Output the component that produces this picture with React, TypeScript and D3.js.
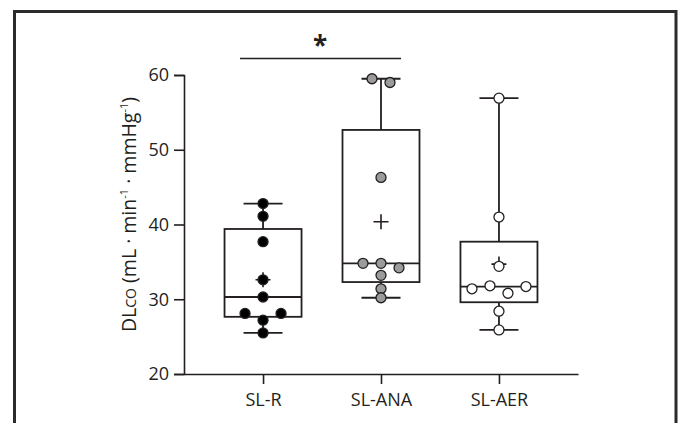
import React, { useEffect, useRef } from 'react';
import * as d3 from 'd3';

// groups and the individual values
const groups = ['SL-R', 'SL-ANA', 'SL-AER'];
const valuesR = [42.8, 41.1, 37.7, 32.6, 30.3, 28.1, 28.1, 27.2, 25.5];
const valuesANA = [59.5, 59.0, 46.3, 34.8, 34.8, 34.2, 33.2, 31.4, 30.2];
const valuesAER = [56.9, 41.0, 34.4, 31.8, 31.4, 31.7, 30.8, 28.4, 25.9];
// beeswarm column of each dot (negative = left of centre)
const columnsR = [0, 0, 0, 0, 0, -2, 2, 0, 0];
const columnsANA = [-1, 1, 0, -2, 0, 2, 0, 0, 0];
const columnsAER = [0, 0, 0, -1, -3, 3, 1, 0, 0];
const dotFills = ['#000000', '#9b9b9b', '#ffffff'];
const yTicks = [20, 30, 40, 50, 60];

const W = 680;
const H = 423;

// quartiles the way the original software does it: (n+1) position
function quant(sorted: number[], p: number) {
  const pos = p * (sorted.length + 1) - 1;
  const lo = Math.max(0, Math.min(sorted.length - 1, Math.floor(pos)));
  const hi = Math.max(0, Math.min(sorted.length - 1, Math.ceil(pos)));
  return sorted[lo] + (sorted[hi] - sorted[lo]) * (pos - Math.floor(pos));
}

const App: React.FC = () => {
  const svgRef = useRef<SVGSVGElement>(null);

  useEffect(() => {
    if (!svgRef.current) return;
    const svg = d3.select(svgRef.current);
    svg.selectAll('*').remove();

    const ink = '#231f20';
    const font = "'Open Sans', 'Noto Sans', sans-serif";

    const left = 184, right = 578, top = 75, bottom = 374;

    const x = d3.scalePoint<string>().domain(groups).range([left, right]).padding(0.67);
    const y = d3.scaleLinear().domain([20, 60]).range([bottom, top]);

    // frame
    svg.append('path')
      .attr('d', `M14.5,${H + 2} V11.5 H676 V${H + 2}`)
      .attr('fill', 'none')
      .attr('stroke', '#2b2b2b')
      .attr('stroke-width', 3);

    // y axis
    const yAxis = svg.append('g')
      .attr('transform', `translate(${left},0)`)
      .call(d3.axisLeft(y).tickValues(yTicks).tickSize(10).tickPadding(5));
    yAxis.select('.domain').attr('stroke', ink).attr('stroke-width', 1.6);
    yAxis.selectAll('.tick line').attr('stroke', ink).attr('stroke-width', 1.6);
    yAxis.selectAll('.tick text')
      .attr('fill', ink)
      .style('font-family', font)
      .style('font-size', '18px');

    // x axis
    const xAxis = svg.append('g')
      .attr('transform', `translate(0,${bottom})`)
      .call(d3.axisBottom(x).tickSize(10).tickPadding(9).tickSizeOuter(0));
    xAxis.select('.domain').attr('stroke', ink).attr('stroke-width', 1.6);
    xAxis.selectAll('.tick line').attr('stroke', ink).attr('stroke-width', 1.6);
    xAxis.selectAll('.tick text')
      .attr('fill', ink)
      .style('font-family', font)
      .style('font-size', '18px');

    // y label
    const label = svg.append('text')
      .attr('transform', `translate(136,${(top + bottom) / 2 - 10}) rotate(-90)`)
      .attr('text-anchor', 'middle')
      .attr('fill', ink)
      .style('font-family', font)
      .style('font-size', '19.5px');
    label.append('tspan').text('DL');
    label.append('tspan').style('font-size', '14px').text('CO');
    label.append('tspan').text(' (mL · min');
    label.append('tspan').style('font-size', '11px').attr('dy', -8).text('-1');
    label.append('tspan').attr('dy', 8).text(' · mmHg');
    label.append('tspan').style('font-size', '11px').attr('dy', -8).text('-1');
    label.append('tspan').attr('dy', 8).text(')');

    const allValues = [valuesR, valuesANA, valuesAER];
    const allColumns = [columnsR, columnsANA, columnsAER];
    const boxW = 77, capW = 39, colStep = 9, r = 5;

    groups.forEach((gName, i) => {
      const vals = allValues[i];
      const sorted = [...vals].sort((a, b) => a - b);
      const cx = x(gName) as number;
      const q1 = quant(sorted, 0.25);
      const med = quant(sorted, 0.5);
      const q3 = quant(sorted, 0.75);
      const lo = sorted[0];
      const hi = sorted[sorted.length - 1];
      const mean = d3.mean(vals) as number;
      const g = svg.append('g');

      // whiskers
      g.append('line').attr('x1', cx).attr('x2', cx).attr('y1', y(hi)).attr('y2', y(q3))
        .attr('stroke', ink).attr('stroke-width', 1.8);
      g.append('line').attr('x1', cx).attr('x2', cx).attr('y1', y(q1)).attr('y2', y(lo))
        .attr('stroke', ink).attr('stroke-width', 1.8);
      [hi, lo].forEach(v => {
        g.append('line').attr('x1', cx - capW / 2).attr('x2', cx + capW / 2)
          .attr('y1', y(v)).attr('y2', y(v))
          .attr('stroke', ink).attr('stroke-width', 1.8);
      });

      // box
      g.append('rect')
        .attr('x', cx - boxW / 2).attr('width', boxW)
        .attr('y', y(q3)).attr('height', y(q1) - y(q3))
        .attr('fill', 'white').attr('stroke', ink).attr('stroke-width', 1.8);
      g.append('line').attr('x1', cx - boxW / 2).attr('x2', cx + boxW / 2)
        .attr('y1', y(med)).attr('y2', y(med))
        .attr('stroke', ink).attr('stroke-width', 1.8);

      // mean marker
      const my = y(mean);
      g.append('path')
        .attr('d', `M${cx - 7.5},${my}H${cx + 7.5}M${cx},${my - 7.5}V${my + 7.5}`)
        .attr('stroke', ink).attr('stroke-width', 1.6);

      // dots
      g.selectAll('circle')
        .data(vals.map((v, k) => ({ v, c: allColumns[i][k] })))
        .enter()
        .append('circle')
        .attr('cx', d => cx + d.c * colStep)
        .attr('cy', d => y(d.v))
        .attr('r', r)
        .attr('fill', dotFills[i])
        .attr('stroke', ink)
        .attr('stroke-width', 1.3);
    });

    // significance bar
    const x0 = x(groups[0]) as number;
    const x1 = x(groups[1]) as number;
    svg.append('line')
      .attr('x1', x0 - 23).attr('x2', x1 + 20)
      .attr('y1', 58.5).attr('y2', 58.5)
      .attr('stroke', ink).attr('stroke-width', 1.6);
    svg.append('text')
      .attr('x', (x0 + x1) / 2 - 2)
      .attr('y', 55)
      .attr('text-anchor', 'middle')
      .attr('fill', ink)
      .style('font-family', font)
      .style('font-weight', 'bold')
      .style('font-size', '26px')
      .text('*');
  }, []);

  return (
    <svg
      ref={svgRef}
      width={W}
      height={H}
      style={{ position: 'absolute', left: 0, top: 0, background: 'white' }}
    />
  );
};

export default App;
